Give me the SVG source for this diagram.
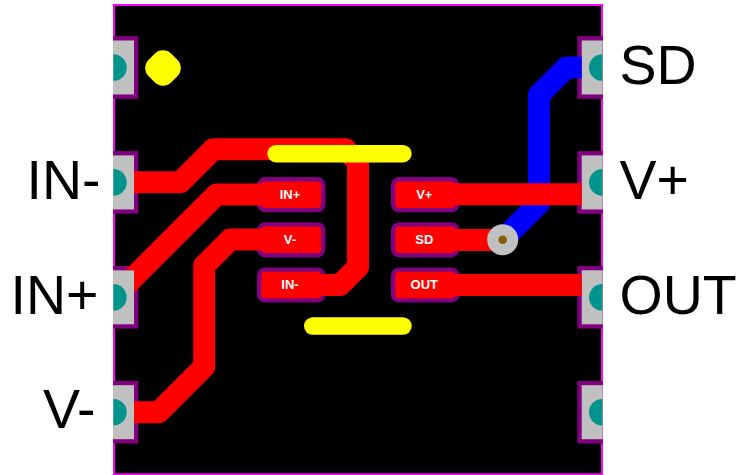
<svg xmlns="http://www.w3.org/2000/svg" width="738" height="475" viewBox="0 0 738 475">
<style>
text{font-family:"Liberation Sans",Arial,sans-serif}
.lab{font-size:55.5px;fill:#000}
.pl{font-size:13px;font-weight:bold;fill:#fff;text-anchor:middle}
.po{fill:#800080}
.pg{fill:#c0c0c0}
.pt{fill:#00948c}
.sm{fill:#f00;stroke:#800080;stroke-width:4.4}
.tr{fill:none;stroke-width:22;stroke-linejoin:round}
.silk{fill:none;stroke:#ff0;stroke-width:17.4;stroke-linecap:round;stroke-linejoin:round}
</style>
<defs>
<g id="lp"><rect class="po" x="113" y="-31.3" width="25.3" height="62.6"/><rect class="pg" x="113" y="-27" width="21" height="54"/><path class="pt" d="M113.4-13.3A13.3 13.3 0 0 1 113.4 13.3Z"/></g>
<g id="rp"><rect class="po" x="577.3" y="-31.3" width="25.4" height="62.6"/><rect class="pg" x="581.7" y="-27" width="21" height="54"/><path class="pt" d="M602.3-13.3A13.3 13.3 0 0 0 602.3 13.3Z"/></g>
<rect id="sp" class="sm" x="0" y="-15.4" width="64.2" height="30.8" rx="6"/>
<clipPath id="cc"><path clip-rule="evenodd" d="M0 0H738V475H0ZM113 40.5H134V94.5H113ZM113 155.4H134V209.4H113ZM113 270.3H134V324.3H113ZM113 385.2H134V439.2H113ZM581.7 40.5H603V94.5H581.7ZM581.7 155.4H603V209.4H581.7ZM581.7 270.3H603V324.3H581.7ZM581.7 385.2H603V439.2H581.7Z"/></clipPath>
</defs>
<rect id="board" x="114" y="5" width="488" height="469.3" fill="#000" stroke="#f0f" stroke-width="2"/>
<g id="pad-l1"><use href="#lp" y="67.5"/></g>
<g id="pad-l2"><use href="#lp" y="182.4"/></g>
<g id="pad-l3"><use href="#lp" y="297.3"/></g>
<g id="pad-l4"><use href="#lp" y="412.2"/></g>
<g id="pad-r1"><use href="#rp" y="67.5"/></g>
<g id="pad-r2"><use href="#rp" y="182.4"/></g>
<g id="pad-r3"><use href="#rp" y="297.3"/></g>
<g id="pad-r4"><use href="#rp" y="412.2"/></g>
<g id="chip-in-plus"><use href="#sp" x="259.1" y="194.7"/></g>
<g id="chip-v-minus"><use href="#sp" x="259.1" y="239.8"/></g>
<g id="chip-in-minus"><use href="#sp" x="259.1" y="285"/></g>
<g id="chip-v-plus"><use href="#sp" x="393.1" y="194.7"/></g>
<g id="chip-sd"><use href="#sp" x="393.1" y="239.8"/></g>
<g id="chip-out"><use href="#sp" x="393.1" y="285"/></g>
<g id="connectors" clip-path="url(#cc)">
<path class="tr" stroke="#00f" d="M602 67.5H566.4L539 94.9V203.4L502.7 239.7"/>
<path class="tr" stroke="#f00" d="M120 182.3H180.3L213.3 149.3H345.5L358 161.8V266.9L340 285H312"/>
<path class="tr" stroke="#f00" d="M121 290L216.5 194.5H272"/>
<path class="tr" stroke="#f00" d="M120 412.3H158.7L204.2 366.8V265.6L230.3 239.5H272"/>
<path class="tr" stroke="#f00" d="M445 194.3H595"/>
<path class="tr" stroke="#f00" d="M445 240H502.7"/>
<path class="tr" stroke="#f00" d="M445 285H595"/>
</g>
<g id="via"><circle cx="502.7" cy="239.7" r="15.5" fill="#c0c0c0"/><circle cx="502.7" cy="239.7" r="4.3" fill="#806000"/></g>
<g id="silkscreen">
<path class="silk" d="M276 153.7H403"/>
<path class="silk" d="M312.7 326H403"/>
<polygon points="163,62 169,68 163,74 157,68" fill="#ff0" stroke="#ff0" stroke-width="23.6" stroke-linejoin="round"/>
</g>
<g id="chip-labels">
<text class="pl" x="290" y="199">IN+</text>
<text class="pl" x="290" y="244">V-</text>
<text class="pl" x="290" y="289">IN-</text>
<text class="pl" x="424.3" y="199">V+</text>
<text class="pl" x="424.3" y="244">SD</text>
<text class="pl" x="424.3" y="289">OUT</text>
</g>
<g id="pin-labels">
<text class="lab" x="26.5" y="199.3">IN-</text>
<text class="lab" x="10.5" y="314.3">IN+</text>
<text class="lab" x="43" y="428.3">V-</text>
<text class="lab" x="619.5" y="84">SD</text>
<text class="lab" x="619.5" y="199">V+</text>
<text class="lab" x="619.5" y="314">OUT</text>
</g>
</svg>
